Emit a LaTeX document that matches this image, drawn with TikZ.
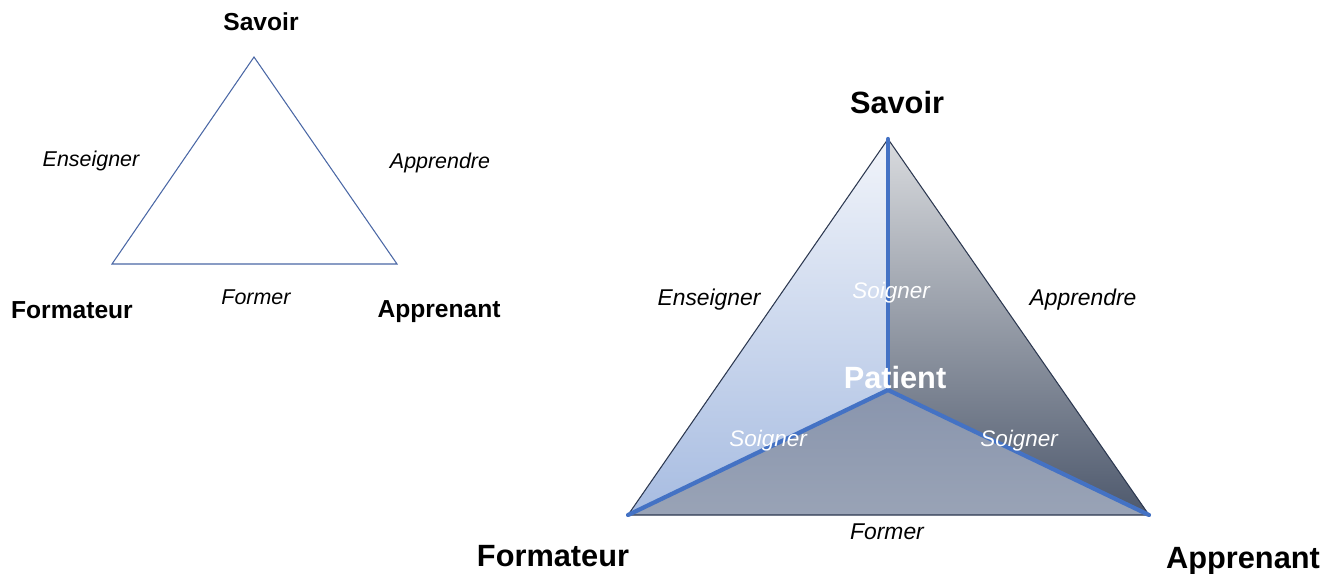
\documentclass[tikz,border=0pt]{standalone}
\usepackage{fontspec}
\setmainfont{Liberation Sans}
\usepackage{tikz}
\usetikzlibrary{positioning,calc}
\definecolor{edgeblue}{HTML}{4A67A5}
\definecolor{edgedark}{HTML}{2C3850}
\definecolor{careblue}{HTML}{4472C4}
\definecolor{lighttop}{HTML}{F1F4FA}
\definecolor{lightbot}{HTML}{A7BCE1}
\definecolor{darktop}{HTML}{D9DBDE}
\definecolor{darkbot}{HTML}{4E596D}
\definecolor{basetop}{HTML}{8995AD}
\definecolor{basebot}{HTML}{99A3B6}
\tikzset{
    x=0.02cm,
    y=-0.02cm,
    pole/.style = {
        font=\fontsize{14}{16}\selectfont\bfseries,
        inner sep=0pt
    },
    bigpole/.style = {
        font=\fontsize{17.5}{20}\selectfont\bfseries,
        inner sep=0pt
    },
    verb/.style = {
        font=\fontsize{12.2}{14}\selectfont\itshape,
        inner sep=0pt
    },
    bigverb/.style = {
        font=\fontsize{13}{15}\selectfont\itshape,
        inner sep=0pt
    },
    care/.style = {
        font=\fontsize{12.8}{15}\selectfont\itshape,
        text=white,
        inner sep=0pt
    },
    thin edge/.style = {
        draw=edgeblue,
        line width=0.6pt
    },
    outer edge/.style = {
        draw=edgedark,
        line width=0.6pt
    },
    care line/.style = {
        draw=careblue,
        line width=2.4pt,
        line cap=round
    },
}
\begin{document}
\begin{tikzpicture}
    \useasboundingbox (0,0) rectangle (1341,574);

    % small triangle
    \coordinate (sav) at (254,57);
    \coordinate (form) at (112,264);
    \coordinate (app) at (397,264);
    \path[thin edge] (sav) -- (form) -- (app) -- cycle;

    \node[pole] (savlbl) at (261,22) {Savoir};
    \node[pole] (formlbl) at (72,310) {Formateur};
    \node[pole] (applbl) at (439,312) {Apprenant};
    \node[verb] (ens) at (91,161) {Enseigner};
    \node[verb] (appr) at (440,163) {Apprendre};
    \node[verb] (former) at (256,297) {Former};

    % big triangle
    \coordinate (Sav) at (888,139);
    \coordinate (Form) at (628,515);
    \coordinate (App) at (1149,515);
    \coordinate (pat) at (888,390);

    \shade[top color=lighttop, bottom color=lightbot] (Sav) -- (Form) -- (pat) -- cycle;
    \shade[top color=darktop, bottom color=darkbot] (Sav) -- (pat) -- (App) -- cycle;
    \shade[top color=basetop, bottom color=basebot] (Form) -- (pat) -- (App) -- cycle;
    \path[outer edge] (Sav) -- (Form) -- (App) -- cycle;

    \path[care line] (Sav) -- (pat);
    \path[care line] (Form) -- (pat);
    \path[care line] (pat) -- (App);

    \node[bigpole] (Savlbl) at (897,103) {Savoir};
    \node[bigpole] (Formlbl) at (553,556) {Formateur};
    \node[bigpole] (Applbl) at (1243,561) {Apprenant};
    \node[bigpole, text=white] (patlbl) at (895,378) {Patient};
    \node[bigverb] (Ens) at (709,300) {Enseigner};
    \node[bigverb] (Appr) at (1083,300) {Apprendre};
    \node[bigverb] (Former) at (887,532) {Former};
    \node[care] (soigtop) at (891,293) {Soigner};
    \node[care] (soigleft) at (768,441) {Soigner};
    \node[care] (soigright) at (1019,441) {Soigner};
\end{tikzpicture}
\end{document}
